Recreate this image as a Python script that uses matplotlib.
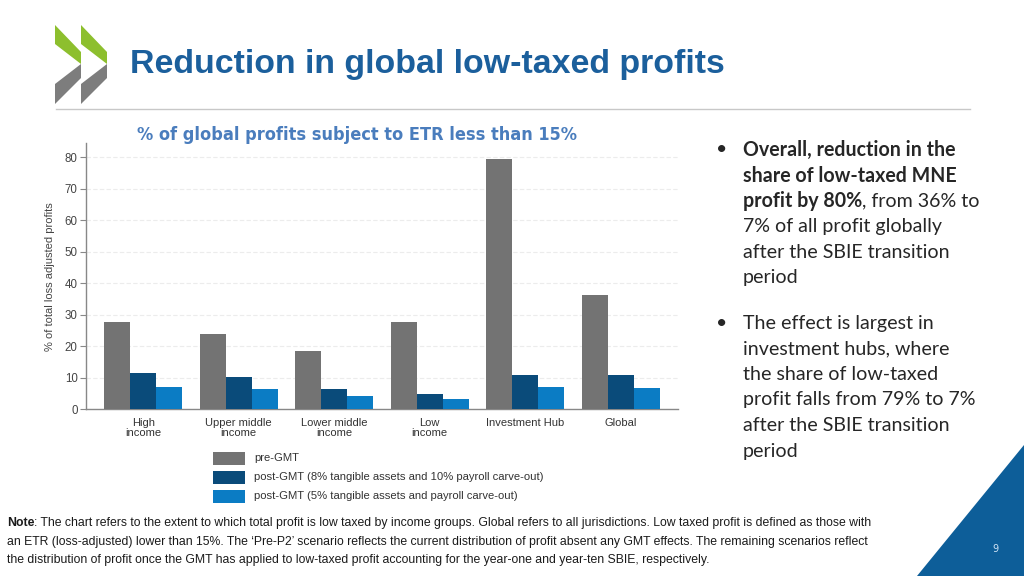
import matplotlib
matplotlib.use("Agg")
import matplotlib.pyplot as plt
from matplotlib.patches import Polygon, Rectangle
import numpy as np

# data
categories = ["High\nincome", "Upper middle\nincome", "Lower middle\nincome",
              "Low\nincome", "Investment Hub", "Global"]
pre_gmt = [27.8, 23.8, 18.5, 27.8, 79.5, 36.2]
post_gmt_8 = [11.5, 10.3, 6.4, 4.8, 10.8, 10.9]
post_gmt_5 = [7.1, 6.4, 4.1, 3.4, 7.2, 6.9]
series_labels = ["pre-GMT",
                 "post-GMT (8% tangible assets and 10% payroll carve-out)",
                 "post-GMT (5% tangible assets and payroll carve-out)"]
y_ticks = [0, 10, 20, 30, 40, 50, 60, 70, 80]

colors = ["#737373", "#0a4b7a", "#0b7cc4"]
W, H = 1024, 576

fig = plt.figure(figsize=(W / 100, H / 100), dpi=100)
fig.patch.set_facecolor("white")

# full-page layer in pixel coords for slide decoration
bg = fig.add_axes([0, 0, 1, 1])
bg.set_xlim(0, W)
bg.set_ylim(H, 0)
bg.axis("off")

# logo chevrons
for dx in [0, 26]:
    bg.add_patch(Polygon([(55 + dx, 25), (81 + dx, 52), (81 + dx, 64), (55 + dx, 44)],
                         closed=True, color="#8dbf2e", lw=0))
    bg.add_patch(Polygon([(81 + dx, 64), (81 + dx, 78), (55 + dx, 104), (55 + dx, 84)],
                         closed=True, color="#7d7d7d", lw=0))

bg.text(130, 65, "Reduction in global low-taxed profits", fontsize=24.4,
        fontweight="bold", color="#1b5f9c", family="Liberation Sans",
        va="center", ha="left")
bg.plot([56, 970], [109, 109], color="#c8c8c8", lw=1)

bg.text(357, 135, "% of global profits subject to ETR less than 15%", fontsize=13,
        fontweight="bold", color="#4a7dbd", fontstretch="condensed",
        family=["DejaVu Sans", "Liberation Sans"], va="center", ha="center")

# bullets
txt_col = "#262626"
bfont = "Lato"
fs = 14.1
line_h = 25.6
lines1 = ["Overall, reduction in the", "share of low-taxed MNE"]
y = 150
bg.text(716, y, "•", fontsize=fs, color=txt_col, family=bfont, va="center")
for ln in lines1:
    bg.text(743, y, ln, fontsize=fs, fontweight="bold", color=txt_col, family=bfont, va="center")
    y += line_h
t = bg.text(743, y, "profit by 80%", fontsize=fs, fontweight="bold", color=txt_col,
            family=bfont, va="center")
bg.annotate(", from 36% to", xy=(1, 0.5), xycoords=t, fontsize=fs, color=txt_col,
            family=bfont, va="center", ha="left")
y += line_h
for ln in ["7% of all profit globally", "after the SBIE transition", "period"]:
    bg.text(743, y, ln, fontsize=fs, color=txt_col, family=bfont, va="center")
    y += line_h

y = 323
bg.text(716, y, "•", fontsize=fs, color=txt_col, family=bfont, va="center")
for ln in ["The effect is largest in", "investment hubs, where", "the share of low-taxed",
           "profit falls from 79% to 7%", "after the SBIE transition", "period"]:
    bg.text(743, y, ln, fontsize=fs, color=txt_col, family=bfont, va="center")
    y += line_h

# legend drawn by hand
leg_y = [458, 477, 496]
for c, lab, ly in zip(colors, series_labels, leg_y):
    bg.add_patch(Rectangle((213, ly - 6), 32, 12.5, color=c, lw=0))
    bg.text(254, ly, lab, fontsize=8.1, color="#333333", family="Liberation Sans", va="center")

# note
note_fs = 8.85
n1 = bg.text(7, 523, "Note", fontsize=note_fs, fontweight="bold", color="#1a1a1a",
             family="Liberation Sans", va="center")
bg.annotate(": The chart refers to the extent to which total profit is low taxed by income groups. "
            "Global refers to all jurisdictions. Low taxed profit is defined as those with",
            xy=(1, 0.5), xycoords=n1, fontsize=note_fs, color="#1a1a1a",
            family="Liberation Sans", va="center")
bg.text(7, 542, "an ETR (loss-adjusted) lower than 15%. The \u2018Pre-P2\u2019 scenario reflects the current "
        "distribution of profit absent any GMT effects. The remaining scenarios reflect",
        fontsize=note_fs, color="#1a1a1a", family="Liberation Sans", va="center")
bg.text(7, 560, "the distribution of profit once the GMT has applied to low-taxed profit accounting "
        "for the year-one and year-ten SBIE, respectively.",
        fontsize=note_fs, color="#1a1a1a", family="Liberation Sans", va="center")

# corner triangle + page number
bg.add_patch(Polygon([(917, H), (W, 445), (W, H)], closed=True, color="#0d5e99", lw=0))
bg.text(995, 549, "9", fontsize=7, color="#cfe3f5", ha="center", va="center")

# chart
ax = fig.add_axes([86 / W, 1 - 409.3 / H, 592 / W, (409.3 - 143) / H])
ax.set_facecolor("none")
x = np.arange(len(categories))
bw = 0.272
for k, (vals, c) in enumerate(zip([pre_gmt, post_gmt_8, post_gmt_5], colors)):
    ax.bar(x + (k - 1) * bw, vals, width=bw, color=c, lw=0, zorder=3)

ax.set_xlim(-0.6, 5.6)
ax.set_ylim(0, 84.5)
ax.set_yticks(y_ticks)
ax.set_xticks(x)
ax.set_xticklabels(categories, fontsize=8, color="#333333", linespacing=1.05,
                   family="Liberation Sans")
ax.tick_params(axis="x", length=0, pad=6)
ax.tick_params(axis="y", length=4, color="#888888", labelsize=8.3, labelcolor="#444444", pad=2)
for lbl in ax.get_yticklabels():
    lbl.set_family("Liberation Sans")
ax.set_ylabel("% of total loss adjusted profits", fontsize=8, color="#444444",
              family="Liberation Sans", labelpad=7)
for s in ["top", "right"]:
    ax.spines[s].set_visible(False)
for s in ["left", "bottom"]:
    ax.spines[s].set_color("#888888")
    ax.spines[s].set_linewidth(1)
ax.yaxis.grid(True, color="#ececec", lw=0.8, linestyle=(0, (4, 2)), zorder=0)
ax.set_axisbelow(True)

fig.savefig("out.png", dpi=100)
